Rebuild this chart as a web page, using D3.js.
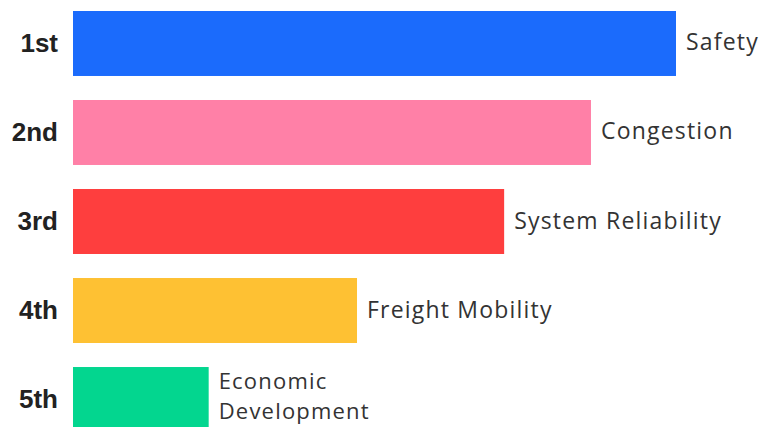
<!DOCTYPE html>
<html>
<head>
<meta charset="utf-8">
<script src="https://cdn.jsdelivr.net/npm/d3@7"></script>
<style>
  html, body { margin: 0; padding: 0; background: #ffffff; }
  svg { display: block; }
</style>
</head>
<body>
<svg id="chart" width="767" height="427"></svg>
<script>
// Ranked transportation priorities (relative score, top priority = 100)
const ranks = ["1st", "2nd", "3rd", "4th", "5th"];
const categories = ["Safety", "Congestion", "System Reliability", "Freight Mobility", "Economic Development"];
const scores = [100, 85.9, 71.5, 47.1, 22.5];
const colors = ["#1b6bfc", "#ff80a7", "#fe3e3e", "#fec133", "#03d68f"];

const svg = d3.select("#chart");

const rows = ranks.map((r, i) => ({ rank: r, category: categories[i], score: scores[i], color: colors[i] }));

const x = d3.scaleLinear().domain([0, 100]).range([73, 676]);
const y = d3.scaleBand().domain(ranks).range([11, 432]).paddingInner(0.27).paddingOuter(0);

// Bars
svg.append("g")
  .selectAll("rect")
  .data(rows)
  .join("rect")
  .attr("x", x(0))
  .attr("y", d => y(d.rank))
  .attr("width", d => x(d.score) - x(0))
  .attr("height", y.bandwidth())
  .attr("fill", d => d.color);

// Rank labels on the left axis
const axis = d3.axisLeft(y).tickSize(0).tickPadding(15);
const gAxis = svg.append("g")
  .attr("transform", `translate(${x(0)},0)`)
  .call(axis);
gAxis.select(".domain").remove();
gAxis.selectAll("text")
  .attr("fill", "#222")
  .style("font-family", "'Liberation Sans', Arial, sans-serif")
  .style("font-weight", "700")
  .style("font-size", "26px");

// Category labels at the end of each bar (long labels on short bars wrap to two lines)
const labelG = svg.append("g");
rows.forEach(d => {
  const words = d.category.split(" ");
  const wrap = d.score < 30 && words.length > 1;
  const lines = wrap ? words : [d.category];
  const size = wrap ? 22 : 23;
  const lh = 30;
  const cy = y(d.rank) + y.bandwidth() / 2;
  lines.forEach((ln, j) => {
    labelG.append("text")
      .attr("x", x(d.score) + 10)
      .attr("y", cy - (lines.length - 1) * lh / 2 + j * lh + (wrap ? 4 : 7))
      .attr("fill", "#333")
      .style("font-family", "'Open Sans', sans-serif")
      .style("font-size", size + "px")
      .style("letter-spacing", "1.2px")
      .text(ln);
  });
});
</script>
</body>
</html>
